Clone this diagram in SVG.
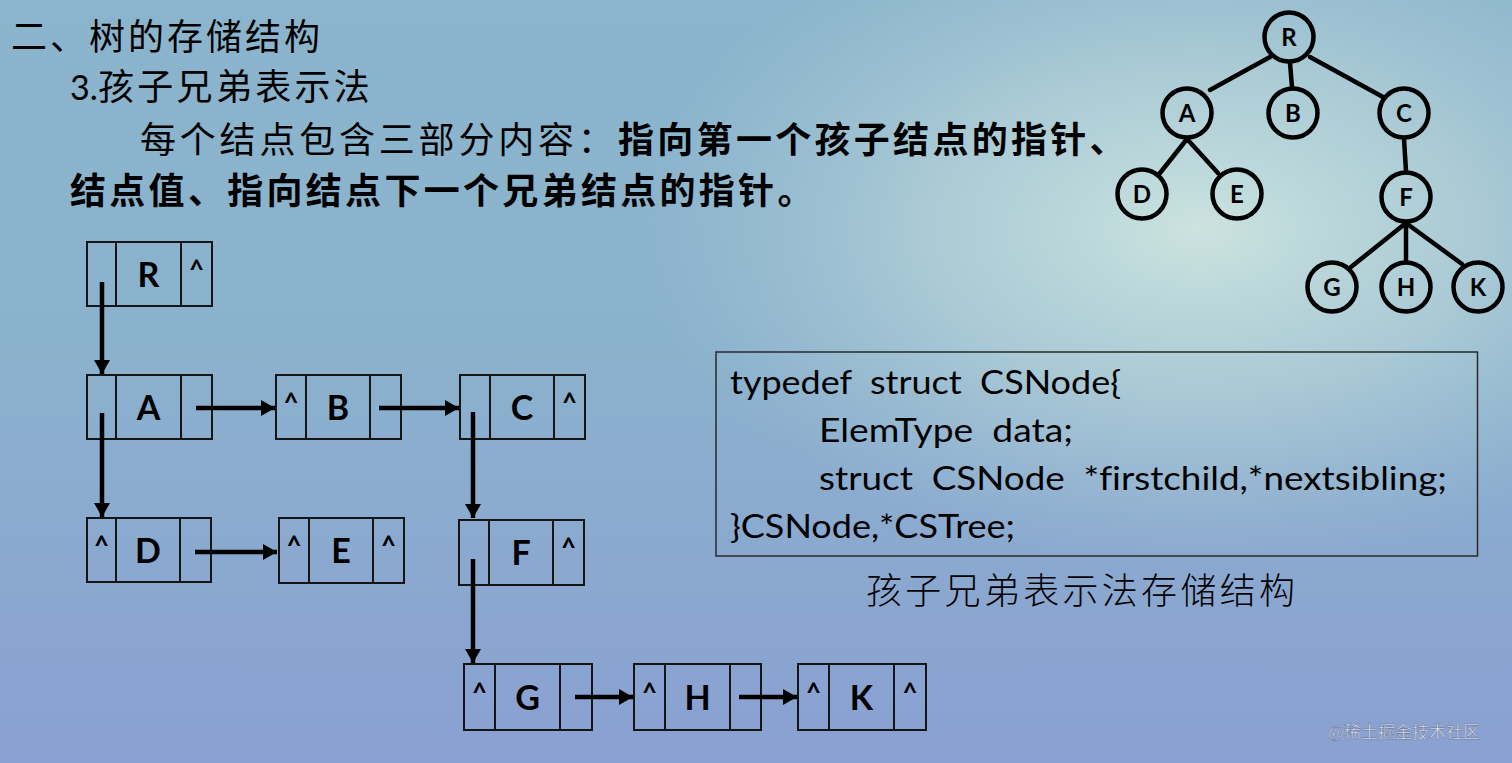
<svg xmlns="http://www.w3.org/2000/svg" width="1512" height="763" viewBox="0 0 1512 763">
  <defs>
    <linearGradient id="bg" x1="0" y1="0" x2="0" y2="1">
      <stop offset="0" stop-color="#8bb5cc"/>
      <stop offset="0.45" stop-color="#8bb2cd"/>
      <stop offset="1" stop-color="#8aa0d2"/>
    </linearGradient>
    <radialGradient id="glow" cx="1200" cy="230" r="560" gradientUnits="userSpaceOnUse" gradientTransform="translate(1200 230) scale(1 0.6) translate(-1200 -230)">
      <stop offset="0" stop-color="#cfe6e0" stop-opacity="0.95"/>
      <stop offset="0.5" stop-color="#c2dcdc" stop-opacity="0.55"/>
      <stop offset="1" stop-color="#b0d0d8" stop-opacity="0"/>
    </radialGradient>
    <marker id="ah" viewBox="0 0 14 16" refX="14" refY="8" markerWidth="14" markerHeight="16" markerUnits="userSpaceOnUse" orient="auto">
      <path d="M0,0 L14,8 L0,16 Z" fill="#000"/>
    </marker>
    <style>
      .cell { fill: none; stroke: #151515; stroke-width: 2; }
      .val { font-family: "Lato", "Open Sans", sans-serif; font-weight: 700; font-size: 34px; fill: #000; text-anchor: middle; }
      .nul { font-family: "Lato", "Open Sans", sans-serif; font-weight: 700; font-size: 26px; fill: #000; text-anchor: middle; }
      .arr { stroke: #000; stroke-width: 4.5; fill: none; marker-end: url(#ah); }
      .tc { fill: none; stroke: #000; stroke-width: 4.5; }
      .te { stroke: #000; stroke-width: 4.5; stroke-linecap: round; }
      .tl { font-family: "Lato", "Open Sans", sans-serif; font-weight: 700; font-size: 24px; fill: #000; text-anchor: middle; }
      .cjk { font-family: "Noto Sans CJK SC", "Noto Sans", sans-serif; font-size: 36px; fill: #000; }
      .b { font-weight: 700; }
      .code { font-family: "Lato", "Open Sans", sans-serif; font-size: 32px; fill: #000; white-space: pre; font-variant-ligatures: none; }
    </style>
  </defs>

  <rect x="0" y="0" width="1512" height="763" fill="url(#bg)"/>
  <rect x="0" y="0" width="1512" height="763" fill="url(#glow)"/>

  <!-- titles -->
  <g id="titles">
    <text class="cjk" x="11" y="50" letter-spacing="3">二、树的存储结构</text>
    <text class="cjk" x="70" y="100"><tspan font-family="Lato, sans-serif" font-size="34">3.</tspan><tspan x="98" letter-spacing="3.3">孩子兄弟表示法</tspan></text>
    <text class="cjk" x="140" y="153"><tspan letter-spacing="3.8">每个结点包含三部分内容：</tspan><tspan x="618" class="b" letter-spacing="3.3">指向第一个孩子结点的指针、</tspan></text>
    <text class="cjk b" x="70" y="204" letter-spacing="3.3">结点值、指向结点下一个兄弟结点的指针。</text>
  </g>

  <!-- tree -->
  <g id="tree-edges">
    <line class="te" x1="1270" y1="57" x2="1210" y2="90"/>
    <line class="te" x1="1290" y1="63" x2="1292" y2="87"/>
    <line class="te" x1="1310" y1="57" x2="1383" y2="97"/>
    <line class="te" x1="1187" y1="139" x2="1160" y2="173"/>
    <line class="te" x1="1187" y1="139" x2="1218" y2="173"/>
    <line class="te" x1="1404" y1="139" x2="1406" y2="171"/>
    <line class="te" x1="1406" y1="223" x2="1351" y2="267"/>
    <line class="te" x1="1406" y1="223" x2="1406" y2="262"/>
    <line class="te" x1="1406" y1="223" x2="1462" y2="264"/>
  </g>
  <g id="t-R"><circle class="tc" cx="1289" cy="37" r="24.5"/><text class="tl" x="1289" y="45.5">R</text></g>
  <g id="t-A"><circle class="tc" cx="1187" cy="113" r="24.5"/><text class="tl" x="1187" y="121.5">A</text></g>
  <g id="t-B"><circle class="tc" cx="1293" cy="113" r="24.5"/><text class="tl" x="1293" y="121.5">B</text></g>
  <g id="t-C"><circle class="tc" cx="1404" cy="113" r="24.5"/><text class="tl" x="1404" y="121.5">C</text></g>
  <g id="t-D"><circle class="tc" cx="1142" cy="194" r="24.5"/><text class="tl" x="1142" y="202.5">D</text></g>
  <g id="t-E"><circle class="tc" cx="1237" cy="194" r="24.5"/><text class="tl" x="1237" y="202.5">E</text></g>
  <g id="t-F"><circle class="tc" cx="1406" cy="197" r="24.5"/><text class="tl" x="1406" y="205.5">F</text></g>
  <g id="t-G"><circle class="tc" cx="1332" cy="287" r="24.5"/><text class="tl" x="1332" y="295.5">G</text></g>
  <g id="t-H"><circle class="tc" cx="1406" cy="287" r="24.5"/><text class="tl" x="1406" y="295.5">H</text></g>
  <g id="t-K"><circle class="tc" cx="1478" cy="287" r="24.5"/><text class="tl" x="1478" y="295.5">K</text></g>

  <!-- linked nodes -->
  <g id="n-R">
    <rect class="cell" x="87" y="242" width="125" height="64"/>
    <line class="cell" x1="116" y1="242" x2="116" y2="306"/>
    <line class="cell" x1="181" y1="242" x2="181" y2="306"/>
    <text class="val" x="148.5" y="287">R</text>
    <text class="nul" x="196.5" y="279">^</text>
  </g>
  <g id="n-A">
    <rect class="cell" x="87" y="375" width="125" height="64"/>
    <line class="cell" x1="116" y1="375" x2="116" y2="439"/>
    <line class="cell" x1="181" y1="375" x2="181" y2="439"/>
    <text class="val" x="148.5" y="420">A</text>
  </g>
  <g id="n-B">
    <rect class="cell" x="276" y="375" width="125" height="64"/>
    <line class="cell" x1="306" y1="375" x2="306" y2="439"/>
    <line class="cell" x1="370" y1="375" x2="370" y2="439"/>
    <text class="val" x="338" y="420">B</text>
    <text class="nul" x="291" y="412">^</text>
  </g>
  <g id="n-C">
    <rect class="cell" x="460" y="375" width="125" height="64"/>
    <line class="cell" x1="490" y1="375" x2="490" y2="439"/>
    <line class="cell" x1="554" y1="375" x2="554" y2="439"/>
    <text class="val" x="522" y="420">C</text>
    <text class="nul" x="569.5" y="412">^</text>
  </g>
  <g id="n-D">
    <rect class="cell" x="87" y="518" width="124" height="64"/>
    <line class="cell" x1="116" y1="518" x2="116" y2="582"/>
    <line class="cell" x1="180" y1="518" x2="180" y2="582"/>
    <text class="val" x="148" y="563">D</text>
    <text class="nul" x="101.5" y="555">^</text>
  </g>
  <g id="n-E">
    <rect class="cell" x="279" y="518" width="125" height="65"/>
    <line class="cell" x1="309" y1="518" x2="309" y2="583"/>
    <line class="cell" x1="373" y1="518" x2="373" y2="583"/>
    <text class="val" x="341" y="563">E</text>
    <text class="nul" x="294" y="555">^</text>
    <text class="nul" x="388.5" y="555">^</text>
  </g>
  <g id="n-F">
    <rect class="cell" x="459" y="520" width="125" height="65"/>
    <line class="cell" x1="489" y1="520" x2="489" y2="585"/>
    <line class="cell" x1="553" y1="520" x2="553" y2="585"/>
    <text class="val" x="521" y="565">F</text>
    <text class="nul" x="568.5" y="557">^</text>
  </g>
  <g id="n-G">
    <rect class="cell" x="464" y="664" width="128" height="66"/>
    <line class="cell" x1="495" y1="664" x2="495" y2="730"/>
    <line class="cell" x1="560" y1="664" x2="560" y2="730"/>
    <text class="val" x="527.5" y="710">G</text>
    <text class="nul" x="479.5" y="702">^</text>
  </g>
  <g id="n-H">
    <rect class="cell" x="634" y="664" width="127" height="66"/>
    <line class="cell" x1="665" y1="664" x2="665" y2="730"/>
    <line class="cell" x1="730" y1="664" x2="730" y2="730"/>
    <text class="val" x="697.5" y="710">H</text>
    <text class="nul" x="649.5" y="702">^</text>
  </g>
  <g id="n-K">
    <rect class="cell" x="798" y="664" width="128" height="66"/>
    <line class="cell" x1="829" y1="664" x2="829" y2="730"/>
    <line class="cell" x1="894" y1="664" x2="894" y2="730"/>
    <text class="val" x="861.5" y="710">K</text>
    <text class="nul" x="813.5" y="702">^</text>
    <text class="nul" x="910" y="702">^</text>
  </g>

  <!-- connectors -->
  <g id="connectors">
    <line class="arr" x1="102" y1="282" x2="102" y2="374"/>
    <line class="arr" x1="102" y1="413" x2="102" y2="517"/>
    <line class="arr" x1="196" y1="408" x2="275" y2="408"/>
    <line class="arr" x1="379" y1="408" x2="459" y2="408"/>
    <line class="arr" x1="473" y1="412" x2="473" y2="518"/>
    <line class="arr" x1="195" y1="552" x2="277" y2="552"/>
    <line class="arr" x1="473" y1="559" x2="473" y2="663"/>
    <line class="arr" x1="575" y1="697" x2="633" y2="697"/>
    <line class="arr" x1="739" y1="697" x2="797" y2="697"/>
  </g>

  <!-- code box -->
  <g id="code">
    <rect x="716" y="352" width="761.5" height="204" fill="none" stroke="#2a2a2a" stroke-width="1.5"/>
    <text class="code" x="730" y="394" textLength="391" lengthAdjust="spacingAndGlyphs">typedef  struct  CSNode{</text>
    <text class="code" x="819" y="442" textLength="254" lengthAdjust="spacingAndGlyphs">ElemType  data;</text>
    <text class="code" x="819" y="490" textLength="628" lengthAdjust="spacingAndGlyphs">struct  CSNode  *firstchild,*nextsibling;</text>
    <text class="code" x="730" y="538" textLength="285" lengthAdjust="spacingAndGlyphs">}CSNode,*CSTree;</text>
  </g>
  <g id="caption">
    <text class="cjk" x="866" y="604" letter-spacing="3.3" font-weight="300">孩子兄弟表示法存储结构</text>
  </g>

  <g id="watermark">
    <text x="1328" y="738" font-family="Noto Sans CJK SC, sans-serif" font-size="17" fill="#e8ecf4" stroke="#5a6684" stroke-width="0.4" opacity="0.9">@稀土掘金技术社区</text>
  </g>
</svg>
